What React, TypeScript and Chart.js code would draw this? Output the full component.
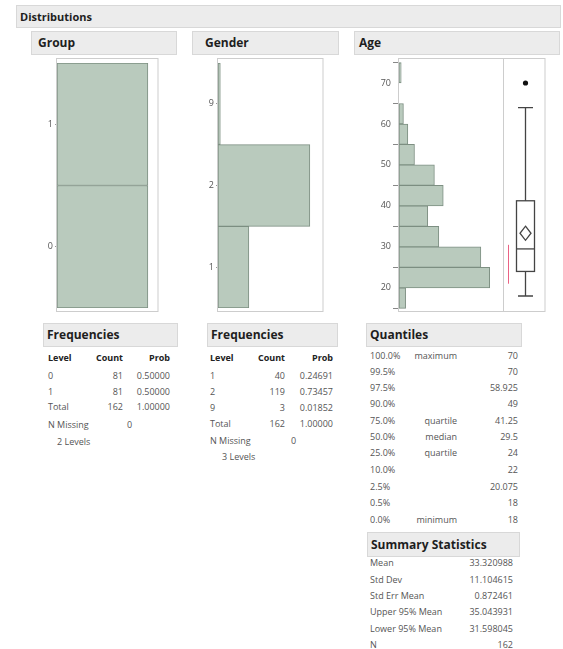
import React, { useEffect, useRef } from 'react';
import { Chart, registerables } from 'chart.js';

Chart.register(...registerables);

const FONT = '"Open Sans", "Noto Sans", "DejaVu Sans", sans-serif';
const FILL = '#b9cabd';
const EDGE = '#7d8f82';
const FRAME = '#cdcdcd';

// ---------- data ----------
const groupLevels = ['0', '1'];
const groupCounts = [81, 81];
const groupProbs = ['0.50000', '0.50000'];

const genderLevels = ['1', '2', '9'];
const genderCounts = [40, 119, 3];
const genderProbs = ['0.24691', '0.73457', '0.01852'];

const totalCount = 162;
const totalProb = '1.00000';

const ageBinStarts = [15, 20, 25, 30, 35, 40, 45, 50, 55, 60, 65, 70];
const ageBinWidth = 5;
const ageCounts = [3, 41, 37, 18, 13, 20, 16, 7, 4, 2, 0, 1];
const ageTicks = [20, 30, 40, 50, 60, 70];

const quantilePcts = ['100.0%', '99.5%', '97.5%', '90.0%', '75.0%', '50.0%', '25.0%', '10.0%', '2.5%', '0.5%', '0.0%'];
const quantileNames = ['maximum', '', '', '', 'quartile', 'median', 'quartile', '', '', '', 'minimum'];
const quantileValues = ['70', '70', '58.925', '49', '41.25', '29.5', '24', '22', '20.075', '18', '18'];

const summaryLabels = ['Mean', 'Std Dev', 'Std Err Mean', 'Upper 95% Mean', 'Lower 95% Mean', 'N'];
const summaryValues = ['33.320988', '11.104615', '0.872461', '35.043931', '31.598045', '162'];

// box plot values
const boxQ1 = 24;
const boxMedian = 29.5;
const boxQ3 = 41.25;
const boxWhiskerLow = 18;
const boxWhiskerHigh = 64;
const boxOutliers = [70];
const boxMean = 33.320988;
const boxMeanUpper = 35.043931;
const boxMeanLower = 31.598045;
const shortestHalf = [21, 30.5];

// ---------- chart helpers ----------
function framePlugin(extraTop: number, extraBottom: number, extraRight: number) {
  return {
    id: 'frame',
    afterDraw(chart: any) {
      const { ctx, chartArea: a } = chart;
      ctx.save();
      ctx.strokeStyle = FRAME;
      ctx.lineWidth = 1;
      ctx.strokeRect(Math.round(a.left) - 0.5, Math.round(a.top - extraTop) + 0.5,
        Math.round(a.right + extraRight - a.left) + 0.5, Math.round(a.bottom + extraBottom - a.top + extraTop) - 1);
      ctx.restore();
    },
  };
}

function catConfig(levels: string[], counts: number[], xMax: number, axisW: number): any {
  return {
    type: 'bar',
    data: {
      labels: levels,
      datasets: [{
        data: counts,
        backgroundColor: FILL,
        borderColor: EDGE,
        borderWidth: 1,
        borderSkipped: false,
        categoryPercentage: 1,
        barPercentage: 1,
      }],
    },
    options: {
      indexAxis: 'y',
      animation: false,
      responsive: false,
      maintainAspectRatio: false,
      events: [],
      layout: { padding: { top: 8, bottom: 9, left: 0, right: 2 } },
      plugins: { legend: { display: false }, tooltip: { enabled: false } },
      scales: {
        x: { display: false, min: 0, max: xMax },
        y: {
          reverse: true,
          offset: true,
          grid: { display: true, drawOnChartArea: false, drawTicks: true, tickLength: 2, offset: false, color: '#999' },
          border: { display: false },
          ticks: { color: '#555', font: { size: 9, family: FONT }, padding: 2 },
          afterFit: (s: any) => { s.width = axisW; },
        },
      },
    },
    plugins: [framePlugin(5, 4, 0)],
  };
}

const BOX_PANEL = 43;

const boxPlugin = {
  id: 'boxplot',
  afterDatasetsDraw(chart: any) {
    const { ctx, chartArea: a } = chart;
    const y = chart.scales.y;
    const py = (v: number) => y.getPixelForValue(v);
    const cx = Math.round(a.right + BOX_PANEL / 2) + 0.5;
    ctx.save();
    // divider
    ctx.strokeStyle = FRAME;
    ctx.lineWidth = 1;
    ctx.beginPath();
    ctx.moveTo(Math.round(a.right) + 0.5, a.top);
    ctx.lineTo(Math.round(a.right) + 0.5, a.bottom);
    ctx.stroke();
    // shortest half
    ctx.strokeStyle = 'rgba(232,70,110,0.85)';
    ctx.lineWidth = 1;
    ctx.beginPath();
    ctx.moveTo(Math.round(a.right) + 5.5, py(shortestHalf[1]));
    ctx.lineTo(Math.round(a.right) + 5.5, py(shortestHalf[0]));
    ctx.stroke();
    // whiskers
    ctx.strokeStyle = '#444';
    ctx.lineWidth = 1.3;
    ctx.beginPath();
    ctx.moveTo(cx, py(boxWhiskerHigh)); ctx.lineTo(cx, py(boxQ3));
    ctx.moveTo(cx, py(boxQ1)); ctx.lineTo(cx, py(boxWhiskerLow));
    ctx.moveTo(cx - 7.5, py(boxWhiskerHigh)); ctx.lineTo(cx + 7.5, py(boxWhiskerHigh));
    ctx.moveTo(cx - 7.5, py(boxWhiskerLow)); ctx.lineTo(cx + 7.5, py(boxWhiskerLow));
    ctx.stroke();
    // box
    ctx.strokeRect(cx - 9, py(boxQ3), 18, py(boxQ1) - py(boxQ3));
    ctx.beginPath();
    ctx.moveTo(cx - 9, py(boxMedian)); ctx.lineTo(cx + 9, py(boxMedian));
    ctx.stroke();
    // mean diamond
    ctx.beginPath();
    ctx.moveTo(cx, py(boxMeanUpper));
    ctx.lineTo(cx + 5.5, py(boxMean));
    ctx.lineTo(cx, py(boxMeanLower));
    ctx.lineTo(cx - 5.5, py(boxMean));
    ctx.closePath();
    ctx.stroke();
    // outliers
    ctx.fillStyle = '#111';
    boxOutliers.forEach((v) => {
      ctx.beginPath();
      ctx.arc(cx, py(v), 2.6, 0, Math.PI * 2);
      ctx.fill();
    });
    ctx.restore();
  },
};

function ageConfig(): any {
  return {
    type: 'bar',
    data: {
      datasets: [{
        data: ageBinStarts.map((s, i) => ({ x: ageCounts[i], y: s + ageBinWidth / 2 })),
        backgroundColor: FILL,
        borderColor: EDGE,
        borderWidth: 1,
        borderSkipped: false,
        categoryPercentage: 1,
        barPercentage: 1,
      }],
    },
    options: {
      indexAxis: 'y',
      animation: false,
      responsive: false,
      maintainAspectRatio: false,
      events: [],
      layout: { padding: { top: 10, bottom: 10, left: 0, right: BOX_PANEL } },
      plugins: { legend: { display: false }, tooltip: { enabled: false } },
      scales: {
        x: { type: 'linear', display: false, min: 0, max: 47 },
        y: {
          type: 'linear',
          offset: false,
          min: 14.1,
          max: 76.1,
          afterBuildTicks: (s: any) => { s.ticks = ageTicks.map((v) => ({ value: v })); },
          grid: { display: true, drawOnChartArea: false, drawTicks: true, tickLength: 6, color: '#888' },
          border: { display: false },
          ticks: { color: '#555', font: { size: 9, family: FONT }, padding: 2 },
          afterFit: (s: any) => { s.width = 44; },
        },
      },
    },
    plugins: [framePlugin(0, 0, BOX_PANEL - 1), boxPlugin],
  };
}

function ChartCanvas({ left, top, width, height, config }: any) {
  const ref = useRef<HTMLCanvasElement>(null);
  useEffect(() => {
    if (!ref.current) return;
    const chart = new Chart(ref.current, config());
    return () => chart.destroy();
  }, []);
  return (
    <canvas
      ref={ref}
      width={width}
      height={height}
      style={{ position: 'absolute', left, top, width, height }}
    />
  );
}

// ---------- text helpers ----------
function Box({ left, top, width, height, text, size = 12 }: any) {
  return (
    <div style={{
      position: 'absolute', left, top, width, height, boxSizing: 'border-box',
      background: '#ececec', border: '1px solid #d8d8d8', font: `bold ${size}px ${FONT}`,
      color: '#1e1e1e', lineHeight: `${height - 2}px`, paddingLeft: 3, whiteSpace: 'nowrap',
    }}>{text}</div>
  );
}

function T({ x, y, text, right = false, bold = false, size = 9, color = '#555' }: any) {
  const style: any = {
    position: 'absolute', top: y - 7, height: 14, lineHeight: '14px',
    font: `${bold ? 'bold ' : ''}${size}px ${FONT}`, color, whiteSpace: 'nowrap',
  };
  if (right) { style.left = x - 120; style.width = 120; style.textAlign = 'right'; }
  else style.left = x;
  return <div style={style}>{text}</div>;
}

function FreqTable({ x0, countR, probR, levels, counts, probs, rowYs, missingX, levelsX }: any) {
  const items: any[] = [];
  items.push(<T key="h1" x={x0} y={rowYs[0]} text="Level" bold color="#222" />);
  items.push(<T key="h2" x={countR} y={rowYs[0]} text="Count" bold right color="#222" />);
  items.push(<T key="h3" x={probR} y={rowYs[0]} text="Prob" bold right color="#222" />);
  levels.forEach((l: string, i: number) => {
    items.push(<T key={'l' + i} x={x0} y={rowYs[i + 1]} text={l} />);
    items.push(<T key={'c' + i} x={countR} y={rowYs[i + 1]} text={String(counts[i])} right />);
    items.push(<T key={'p' + i} x={probR} y={rowYs[i + 1]} text={probs[i]} right />);
  });
  const n = levels.length + 1;
  items.push(<T key="tl" x={x0} y={rowYs[n]} text="Total" />);
  items.push(<T key="tc" x={countR} y={rowYs[n]} text={String(totalCount)} right />);
  items.push(<T key="tp" x={probR} y={rowYs[n]} text={totalProb} right />);
  items.push(<T key="nm" x={x0} y={rowYs[n + 1]} text="N Missing" />);
  items.push(<T key="nv" x={missingX} y={rowYs[n + 1]} text="0" />);
  items.push(<T key="lv" x={levelsX} y={rowYs[n + 2]} text={`${levels.length} Levels`} />);
  return <>{items}</>;
}

export default function App() {
  const quantY = [355.5, 371.5, 387.5, 404, 420.5, 437, 453, 470, 486.5, 503, 519.5];
  const sumY = [563, 579.5, 596, 612, 628.5, 645];
  return (
    <div style={{ position: 'absolute', left: 0, top: 0, width: 563, height: 649, background: '#fff', overflow: 'hidden' }}>
      <Box left={16} top={5} width={545} height={23} text="Distributions" size={11} />
      <Box left={31} top={31} width={146} height={24} text={<span style={{ paddingLeft: 3 }}>Group</span>} />
      <Box left={192} top={31} width={147} height={24} text={<span style={{ paddingLeft: 9 }}>Gender</span>} />
      <Box left={354} top={31} width={206} height={24} text={<span style={{ paddingLeft: 1 }}>Age</span>} />

      <ChartCanvas left={41} top={55} width={119} height={262} config={() => catConfig(groupLevels, groupCounts, 90, 16)} />
      <ChartCanvas left={199} top={55} width={126} height={262} config={() => catConfig(genderLevels, genderCounts, 136, 19)} />
      <ChartCanvas left={355} top={48} width={191} height={274} config={ageConfig} />

      <Box left={43} top={323} width={135} height={24} text="Frequencies" />
      <FreqTable x0={48} countR={123} probR={170} levels={groupLevels} counts={groupCounts} probs={groupProbs}
        rowYs={[358, 376, 391.5, 407, 425, 442]} missingX={127} levelsX={57} />

      <Box left={207} top={323} width={131} height={24} text="Frequencies" />
      <FreqTable x0={210} countR={285} probR={333} levels={genderLevels} counts={genderCounts} probs={genderProbs}
        rowYs={[358, 376, 392, 408, 424, 441, 457]} missingX={291} levelsX={222} />

      <Box left={366} top={323} width={156} height={24} text="Quantiles" />
      {quantilePcts.map((p, i) => (
        <React.Fragment key={'q' + i}>
          <T x={370} y={quantY[i]} text={p} />
          {quantileNames[i] ? <T x={457} y={quantY[i]} text={quantileNames[i]} right /> : null}
          <T x={518} y={quantY[i]} text={quantileValues[i]} right />
        </React.Fragment>
      ))}

      <Box left={367} top={532} width={153} height={25} text="Summary Statistics" />
      {summaryLabels.map((l, i) => (
        <React.Fragment key={'s' + i}>
          <T x={370} y={sumY[i]} text={l} />
          <T x={513} y={sumY[i]} text={summaryValues[i]} right />
        </React.Fragment>
      ))}
    </div>
  );
}
